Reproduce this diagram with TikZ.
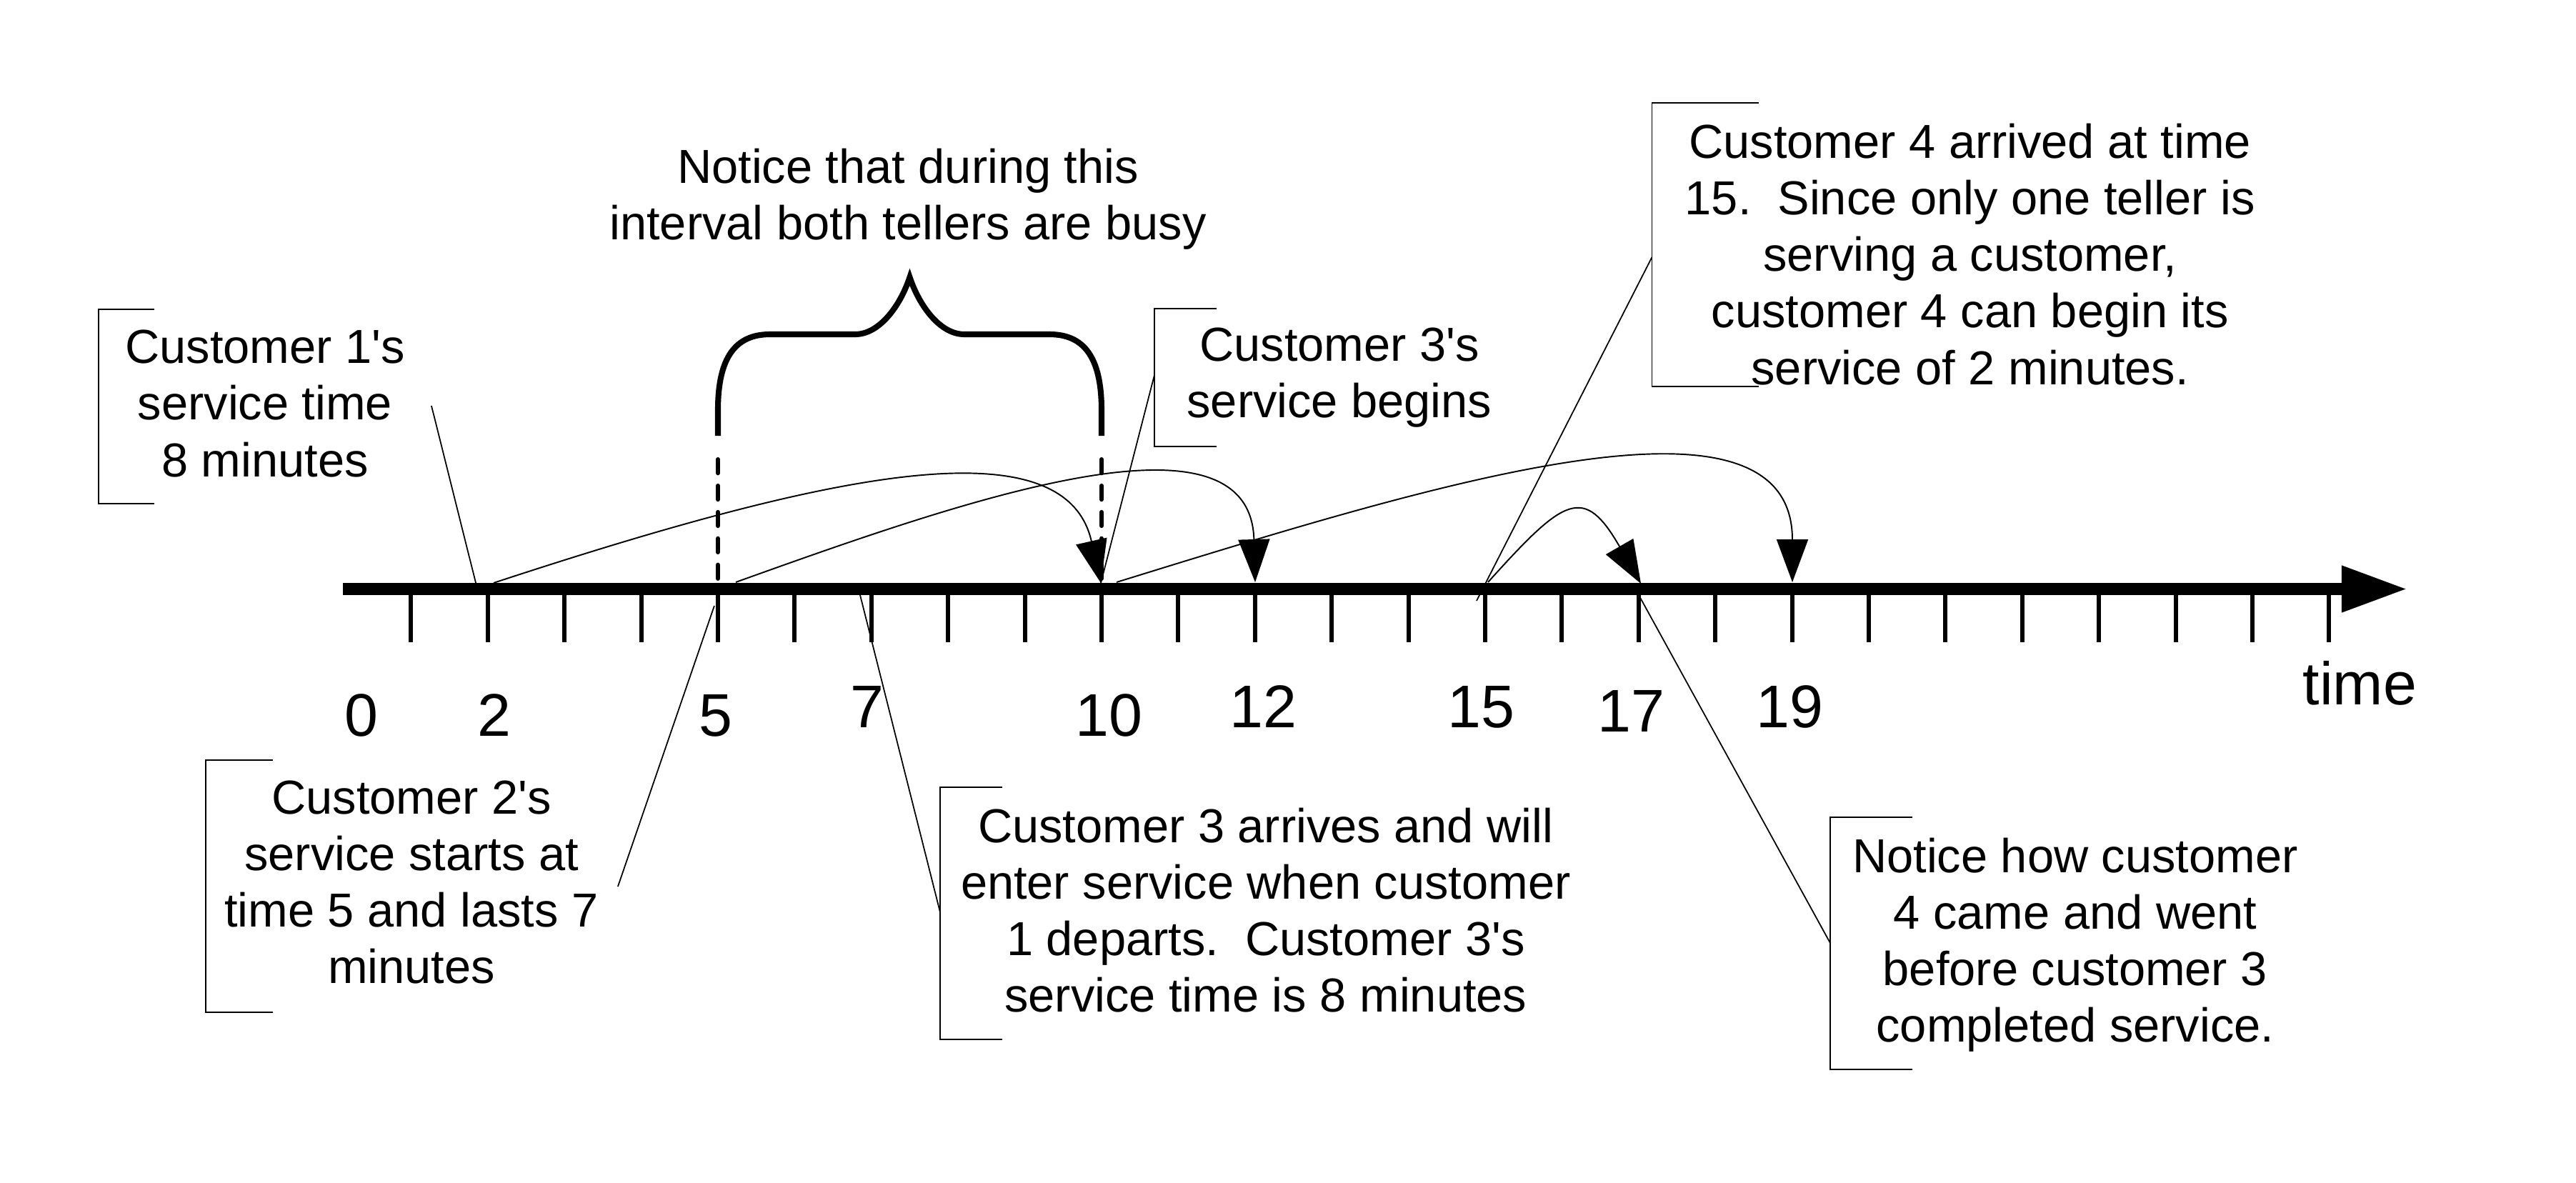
\documentclass[tikz,border=0pt]{standalone}
\usepackage{fontspec}
\setmainfont{Liberation Sans}
\usetikzlibrary{arrows.meta}

\begin{document}
\begin{tikzpicture}[x=1.074cm, y=1cm,
    axisline/.style={line width=4.8pt, -{Triangle[length=9.2mm, width=6.1mm]}},
    tickmark/.style={line width=1.7pt},
    busy/.style={line width=1.7pt, line cap=round, dash pattern=on 5.5pt off 5pt},
    curly/.style={line width=2.3pt},
    bracket/.style={line width=0.5pt},
    leader/.style={line width=0.5pt},
    flow/.style={line width=0.55pt, -{Triangle[length=6mm, width=4.4mm]}},
    note/.style={font=\fontsize{19}{22.5}\selectfont, align=center, inner sep=0pt},
    num/.style={font=\fontsize{24}{28}\selectfont, inner sep=0pt, anchor=base}
]
\useasboundingbox (-4.3575,-8.315) rectangle (29.218,8.245);

% Time axis
\coordinate (tstart) at (0.11,0);
\coordinate (tend) at (27.02,0);
\draw[axisline] (tstart) -- (tend);
\foreach \i in {1,...,26}
    \draw[tickmark] (\i,0) -- (\i,-0.745);

% Both tellers busy
\draw[busy] (5,1.815) -- (5,-0.755);
\draw[busy] (10,1.815) -- (10,-0.755);
\draw[curly] (5,2.145) -- (5,2.505)
    .. controls (5,3.245) and (5.23,3.565) .. (5.68,3.565) -- (6.79,3.565)
    .. controls (7.095,3.565) and (7.37,3.945) .. (7.5,4.365)
    .. controls (7.63,3.945) and (7.905,3.565) .. (8.21,3.565) -- (9.32,3.565)
    .. controls (9.77,3.565) and (10,3.245) .. (10,2.505) -- (10,2.145);
\node[note] (busynote) at (7.477,5.46) {Notice that during this\\interval both tellers are busy};

% Labels under the axis
\node[num] (n0) at (0.354,-2.055) {0};
\node[num] (n2) at (2.086,-2.055) {2};
\node[num] (n5) at (4.972,-2.055) {5};
\node[num] (n7) at (6.946,-1.935) {7};
\node[num] (n10) at (10.10,-2.055) {10};
\node[num] (n12) at (12.11,-1.935) {12};
\node[num] (n15) at (14.95,-1.935) {15};
\node[num] (n17) at (16.90,-1.995) {17};
\node[num] (n19) at (18.97,-1.935) {19};
\node[num] (tlabel) at (26.40,-1.615) {time};

% Points on the axis
\coordinate (s2) at (2.076,0.085);
\coordinate (s5) at (5.233,0.095);
\coordinate (s10) at (10.196,0.095);
\coordinate (s15) at (15.037,0.095);
\coordinate (e10) at (9.991,0.085);
\coordinate (e12) at (12.002,0.095);
\coordinate (e17) at (17.030,0.075);
\coordinate (e19) at (19.004,0.095);

% Service intervals
\draw[flow] (s2) .. controls +(4.274,1.51) and +(-0.475,2.26) .. (e10);
\draw[flow] (s5) .. controls +(2.979,1.15) and +(-0.065,2.55) .. (e12);
\draw[flow] (s10) .. controls +(4.068,1.35) and +(0,2.95) .. (e19);
\draw[flow] (s15) .. controls +(0.997,1.19) and +(-0.745,1.39) .. (e17);

% Customer 1
\node[note] (cust1) at (-0.903,2.595) {Customer 1\textquotesingle s\\service time\\8 minutes};
\draw[bracket] (-2.346,3.915) -- (-3.073,3.915) -- (-3.073,1.195) -- (-2.346,1.195);
\coordinate (l1) at (1.266,2.565);
\coordinate (p2) at (1.844,0.085);
\draw[leader] (l1) -- (p2);

% Customer 2
\node[note] (cust2) at (1.006,-4.105) {Customer 2\textquotesingle s\\service starts at\\time 5 and lasts 7\\minutes};
\draw[bracket] (-0.801,-2.395) -- (-1.676,-2.395) -- (-1.676,-5.925) -- (-0.801,-5.925);
\coordinate (l2) at (3.696,-4.165);
\coordinate (p5) at (4.953,-0.235);
\draw[leader] (l2) -- (p5);

% Customer 3 arrives
\node[note] (cust3) at (12.14,-4.495) {Customer 3 arrives and will\\enter service when customer\\1 departs.\ \ Customer 3\textquotesingle s\\service time is 8 minutes};
\draw[bracket] (8.706,-2.775) -- (7.896,-2.775) -- (7.896,-6.305) -- (8.706,-6.305);
\coordinate (l3) at (7.896,-4.525);
\coordinate (p7) at (6.853,-0.085);
\draw[leader] (l3) -- (p7);

% Customer 3 begins
\node[note] (cust3b) at (13.10,2.96) {Customer 3\textquotesingle s\\service begins};
\draw[bracket] (11.499,3.925) -- (10.689,3.925) -- (10.689,1.995) -- (11.499,1.995);
\coordinate (l3b) at (10.689,2.995);
\draw[leader] (l3b) -- (e10);

% Customer 4
\node[note] (cust4) at (21.32,4.685) {Customer 4 arrived at time\\15.\ \ Since only one teller is\\serving a customer,\\customer 4 can begin its\\service of 2 minutes.};
\draw[bracket] (18.566,6.805) -- (17.174,6.805) -- (17.174,2.835) -- (18.566,2.835);
\coordinate (l4) at (17.174,4.645);
\coordinate (p15) at (14.888,-0.165);
\draw[leader] (l4) -- (p15);

% Customer 4 leaves early
\node[note] (cust4b) at (22.69,-4.98) {Notice how customer\\4 came and went\\before customer 3\\completed service.};
\draw[bracket] (20.568,-3.195) -- (19.497,-3.195) -- (19.497,-6.725) -- (20.568,-6.725);
\coordinate (l5) at (19.497,-4.955);
\coordinate (p17) at (17.002,-0.085);
\draw[leader] (l5) -- (p17);

\end{tikzpicture}
\end{document}
